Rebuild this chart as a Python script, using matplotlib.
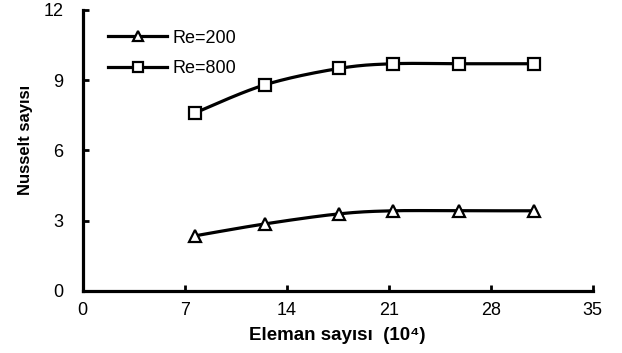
import numpy as np
import matplotlib
matplotlib.use("Agg")
import matplotlib.pyplot as plt

plt.rcParams['font.family'] = ['Liberation Sans', 'DejaVu Sans']

elements = [7.7, 12.5, 17.6, 21.3, 25.8, 31.0]
nu_re200 = [2.35, 2.86, 3.29, 3.42, 3.42, 3.42]
nu_re800 = [7.6, 8.8, 9.5, 9.7, 9.7, 9.7]
labels = ["Re=200", "Re=800"]
xticks = [0, 7, 14, 21, 28, 35]
yticks = [0, 3, 6, 9, 12]


def smooth(x, y, n=30):
    x = np.asarray(x, float)
    y = np.asarray(y, float)
    px = np.concatenate([[x[0]], x, [x[-1]]])
    py = np.concatenate([[y[0]], y, [y[-1]]])
    xs, ys = [], []
    t = np.linspace(0, 1, n)
    for i in range(1, len(px) - 2):
        p0, p1, p2, p3 = (np.array([px[j], py[j]]) for j in (i - 1, i, i + 1, i + 2))
        c1 = p1 + (p2 - p0) / 6
        c2 = p2 - (p3 - p1) / 6
        pts = ((1 - t) ** 3)[:, None] * p1 + (3 * (1 - t) ** 2 * t)[:, None] * c1 \
            + (3 * (1 - t) * t ** 2)[:, None] * c2 + (t ** 3)[:, None] * p2
        xs.append(pts[:, 0])
        ys.append(pts[:, 1])
    return np.concatenate(xs), np.concatenate(ys)


fig = plt.figure(figsize=(6.22, 3.53), dpi=100)
ax = fig.add_axes([0.133, 0.176, 0.82, 0.796])

for yv, lab, mk, ms in [(nu_re200, labels[0], '^', 8), (nu_re800, labels[1], 's', 8)]:
    sx, sy = smooth(elements, yv)
    ax.plot(sx, sy, color='black', lw=2.3)
    ax.plot(elements, yv, linestyle='none', marker=mk, ms=ms, mfc='white',
            mec='black', mew=1.6)
    ax.plot([], [], color='black', lw=2.3, marker=mk, ms=7, mfc='white',
            mec='black', mew=1.6, label=lab)

ax.set_xlim(0, 35)
ax.set_ylim(0, 12)
ax.set_xticks(xticks)
ax.set_yticks(yticks)
for s in ['top', 'right']:
    ax.spines[s].set_visible(False)
for s in ['left', 'bottom']:
    ax.spines[s].set_linewidth(2.3)
ax.tick_params(direction='in', length=4, width=2, labelsize=13)
ax.tick_params(axis='y', pad=14)
ax.tick_params(axis='x', pad=8)

ax.set_xlabel("Eleman sayısı  (10⁴)", fontsize=13.5, fontweight='bold')
ax.set_ylabel("Nusselt sayısı", fontsize=12, fontweight='bold')
ax.xaxis.set_label_coords(0.5, -0.13)
ax.yaxis.set_label_coords(-0.098, 0.537)

ax.legend(loc='upper left', bbox_to_anchor=(0.035, 0.955), frameon=False,
          fontsize=13, handlelength=3.3, handletextpad=0.3, labelspacing=0.75,
          borderaxespad=0.0)

fig.savefig("out.png", dpi=100)
